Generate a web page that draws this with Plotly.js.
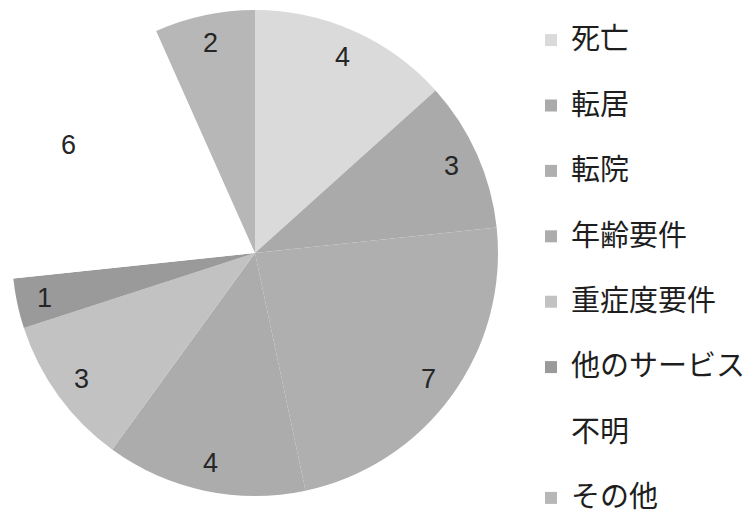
<!DOCTYPE html>
<html>
<head>
<meta charset="utf-8">
<script src="https://cdn.plot.ly/plotly-3.0.1.min.js"></script>
<style>html,body{margin:0;padding:0;background:#fff;}#chart{width:752px;height:513px;}</style>
</head>
<body>
<div id="chart"></div>
<script>
// Data
const categories = ["死亡", "転居", "転院", "年齢要件", "重症度要件", "他のサービス", "不明", "その他"];
const counts = [4, 3, 7, 4, 3, 1, 6, 2];
const sliceColors = ["#dadada", "#aaaaaa", "#afafaf", "#acacac", "#c2c2c2", "#9a9a9a", "#ffffff", "#b7b7b7"];

const W = 752, H = 513;
const cx = 255, cy = 253, R = 243;
const dom = {
  x: [(cx - R) / W, (cx + R) / W],
  y: [1 - (cy + R) / H, 1 - (cy - R) / H]
};

// value labels placed along each slice's mid-angle
const total = counts.reduce((a, b) => a + b, 0);
let cum = 0;
const annotations = counts.map((v) => {
  const mid = (cum + v / 2) / total * 2 * Math.PI;
  cum += v;
  const r = 0.885 * R;
  const px = cx + r * Math.sin(mid);
  const py = cy - r * Math.cos(mid);
  return {
    x: px / W, y: 1 - py / H, xref: "paper", yref: "paper",
    xanchor: "center", yanchor: "middle",
    text: String(v), showarrow: false,
    font: {family: "Liberation Sans, Arial, sans-serif", size: 27, color: "#262626"}
  };
});

// legend labels: larger glyphs, extra blank line for the wide row spacing
const legendLabels = categories.map((c, i) =>
  '<span style="font-size:29px">' + c + '</span>' + (i < categories.length - 1 ? '<br> ' : ''));

const trace = {
  type: "pie",
  labels: legendLabels,
  values: counts,
  sort: false,
  direction: "clockwise",
  rotation: 0,
  textinfo: "none",
  hoverinfo: "label+value",
  marker: {colors: sliceColors, line: {width: 0}},
  domain: dom
};

const layout = {
  width: W, height: H,
  margin: {l: 0, r: 0, t: 0, b: 0, autoexpand: false},
  paper_bgcolor: "#fff",
  showlegend: true,
  legend: {
    x: 531 / W, xanchor: "left",
    y: 1 - 18 / H, yanchor: "top",
    valign: "top",
    font: {family: "Noto Sans CJK JP, sans-serif", size: 24, color: "#1e1e1e"},
    bgcolor: "rgba(0,0,0,0)"
  },
  annotations: annotations
};

Plotly.newPlot("chart", [trace], layout, {displayModeBar: false, staticPlot: true});
</script>
</body>
</html>
